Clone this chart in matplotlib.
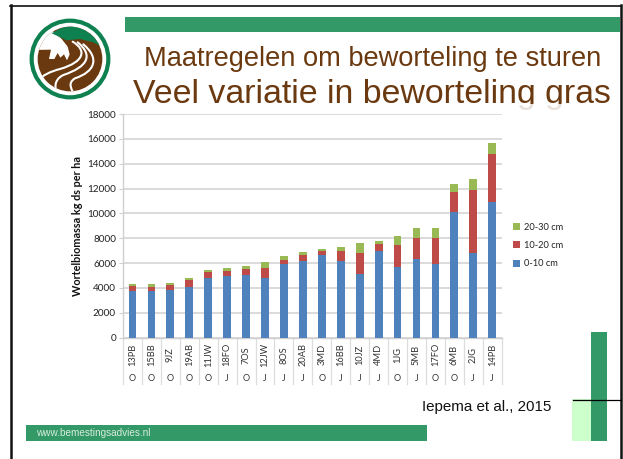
import matplotlib
matplotlib.use('Agg')
import matplotlib.pyplot as plt
from matplotlib.patches import Rectangle, Circle, Polygon, PathPatch
from matplotlib.path import Path
import numpy as np

W, H = 623, 459

# data
fields = ['13PB', '15BB', '9JZ', '19AB', '11JW', '18FO', '7OS', '12JW', '8OS', '20AB',
          '3MD', '16BB', '10JZ', '4MD', '1JG', '5MB', '17FO', '6MB', '2JG', '14PB']
soil_type = ['O', 'O', 'O', 'O', 'O', 'J', 'O', 'J', 'J', 'J',
             'O', 'J', 'J', 'J', 'O', 'J', 'O', 'O', 'J', 'J']
depth_0_10 = [3780, 3720, 3860, 4050, 4770, 4960, 5040, 4770, 5920, 6160,
              6650, 6140, 5120, 7000, 5680, 6350, 5950, 10100, 6780, 10880]
depth_10_20 = [370, 380, 370, 560, 480, 430, 480, 860, 350, 460,
               350, 830, 1660, 500, 1740, 1660, 2060, 1610, 5120, 3890]
depth_20_30 = [190, 240, 190, 210, 190, 240, 240, 450, 270, 240,
               100, 320, 800, 270, 750, 780, 780, 670, 880, 930]

GREEN = '#339966'
BROWN = '#6b390f'
LOGO_GREEN = '#0f8050'

fig = plt.figure(figsize=(W / 100, H / 100), dpi=100, facecolor='white')

# slide layer, in pixels
bg = fig.add_axes([0, 0, 1, 1])
bg.set_xlim(0, W)
bg.set_ylim(H, 0)
bg.axis('off')

# slide frame
bg.plot([11, 11], [5, H], color='#111111', lw=1.8)
bg.plot([10, 621], [5.5, 5.5], color='#111111', lw=1.2)
bg.plot([620.5, 620.5], [5, H], color='#111111', lw=1.8)

# bands
bg.add_patch(Rectangle((125, 16.5), 495, 15.5, color=GREEN, lw=0))
bg.add_patch(Rectangle((26, 425), 401, 16, color=GREEN, lw=0))
bg.add_patch(Rectangle((572, 399), 19, 42, color='#ccffcc', lw=0))
bg.add_patch(Rectangle((591, 332), 16, 109, color=GREEN, lw=0))
bg.plot([573, 621], [399.5, 399.5], color='black', lw=0.9)

# titles
bg.text(373, 66, 'Maatregelen om beworteling te sturen', family='Liberation Sans',
        fontsize=19.6, color=BROWN, ha='center', va='baseline')
bg.text(372, 103, 'Veel variatie in beworteling gras', family='Liberation Sans',
        fontsize=24.4, color=BROWN, ha='center', va='baseline')
bg.add_patch(Rectangle((118, 104), 452, 12, color='white', alpha=0.85, lw=0, zorder=5))

bg.text(36, 433, 'www.bemestingsadvies.nl', family='Liberation Sans', fontsize=7.2,
        color='#d8ece0', ha='left', va='center')
bg.text(422, 411, 'Iepema et al., 2015', family='Liberation Sans', fontsize=10.9,
        color='#111111', ha='left', va='baseline')

# logo, drawn in 3x zoom coordinates
logo = fig.add_axes([25 / W, 1 - 105 / H, 90 / W, 90 / H])
logo.set_xlim(0, 270)
logo.set_ylim(270, 0)
logo.axis('off')
logo.add_patch(Circle((135, 132), 115, fc='none', ec=LOGO_GREEN, lw=3))
disc = Circle((135, 132), 97, fc=BROWN, ec='none')
logo.add_patch(disc)
cow = Polygon([(20, 20), (85, 50), (110, 72), (128, 95), (134, 118), (126, 136),
               (117, 118), (106, 128), (98, 114), (88, 132), (72, 132), (78, 104),
               (20, 105)], fc='white', ec='none')
logo.add_patch(cow)
cap = Polygon([(80, 55), (110, 38), (150, 30), (200, 40), (240, 100), (205, 82),
               (165, 72), (125, 76), (108, 68)], fc=LOGO_GREEN, ec='none')
logo.add_patch(cap)
cap.set_clip_path(disc)
cow.set_clip_path(disc)
roads = [[(143, 80), (185, 105), (180, 140), (105, 162), (75, 170), (55, 180), (40, 195)],
         [(158, 82), (205, 120), (190, 155), (115, 180), (85, 195), (88, 220), (100, 245)],
         [(175, 88), (225, 130), (210, 170), (150, 190), (125, 205), (140, 225), (155, 250)]]
for r in roads:
    codes = [Path.MOVETO, Path.CURVE4, Path.CURVE4, Path.CURVE4, Path.CURVE4, Path.CURVE4, Path.CURVE4]
    road = PathPatch(Path(r, codes), fc='none', ec='white', lw=1.5, capstyle='round')
    logo.add_patch(road)
    road.set_clip_path(disc)

# chart
ax = fig.add_axes([123 / W, 1 - 337.7 / H, 378.7 / W, 223.7 / H])
ax.patch.set_alpha(0)
x = np.arange(len(fields))
d0 = np.array(depth_0_10)
d1 = np.array(depth_10_20)
d2 = np.array(depth_20_30)
bar_w = 0.41
ax.bar(x, d0, bar_w, color='#4f81bd', label='0-10 cm', zorder=3)
ax.bar(x, d1, bar_w, bottom=d0, color='#be4b48', label='10-20 cm', zorder=3)
ax.bar(x, d2, bar_w, bottom=d0 + d1, color='#98b954', label='20-30 cm', zorder=3)

ax.set_xlim(-0.5, len(fields) - 0.5)
ax.set_ylim(0, 18000)
ax.set_yticks(np.arange(0, 18001, 2000))
ax.tick_params(axis='y', labelsize=7.2, length=3, color='#d0d0d0', width=0.8, pad=2,
               labelcolor='#222222')
for lab in ax.get_yticklabels():
    lab.set_family('Lato')
ax.set_xticks([])
ax.grid(axis='y', color='#d4d4d4', lw=1.2, zorder=0)
for s in ['top', 'right']:
    ax.spines[s].set_visible(False)
for s in ['left', 'bottom']:
    ax.spines[s].set_color('#cfcfcf')
    ax.spines[s].set_linewidth(1)
ax.set_ylabel('Wortelbiomassa kg ds per ha', family='Lato', fontweight='bold', fontsize=7.8,
              color='#111111', labelpad=3)

# two level category axis under the bars
tr = ax.get_xaxis_transform()
row1 = -17 / 223.7
row2 = -40.5 / 223.7
low = -46 / 223.7
for i in range(len(fields) + 1):
    ax.plot([i - 0.5, i - 0.5], [0, low], transform=tr, color='#dddddd', lw=0.9, clip_on=False)
for i, (f, s) in enumerate(zip(fields, soil_type)):
    ax.text(i, row1, f, transform=tr, rotation=90, ha='center', va='center', family='Lato',
            fontsize=6.7, color='#333333')
    ax.text(i, row2, s, transform=tr, ha='center', va='center', family='Lato',
            fontsize=6.5, color='#333333')

handles, labels = ax.get_legend_handles_labels()
leg = fig.legend(handles[::-1], labels[::-1], loc='center left',
                 bbox_to_anchor=(513 / W, 1 - 245.5 / H), frameon=False,
                 prop={'family': 'Lato', 'size': 6.7}, handlelength=0.8, handleheight=0.8,
                 handletextpad=0.35, labelspacing=1.0, borderpad=0, borderaxespad=0)
for t in leg.get_texts():
    t.set_color('#222222')

fig.savefig('out.png', dpi=100)
